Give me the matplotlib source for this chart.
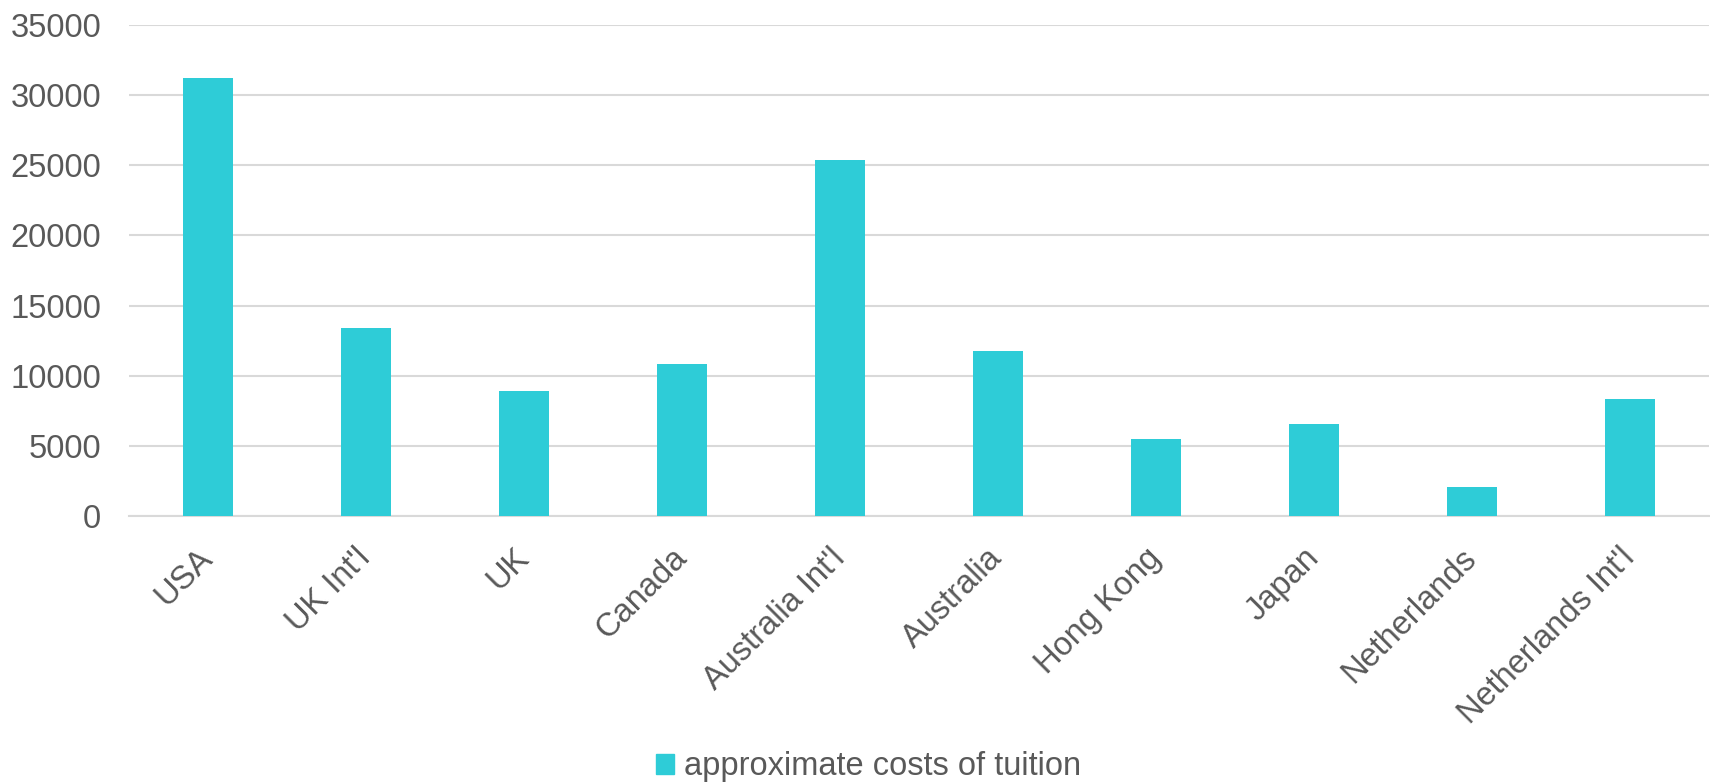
import matplotlib
matplotlib.use("Agg")
import matplotlib.pyplot as plt
from matplotlib.patches import Patch

countries = ["USA", "UK Int'l", "UK", "Canada", "Australia Int'l", "Australia",
             "Hong Kong", "Japan", "Netherlands", "Netherlands Int'l"]
tuition = [31240, 13410, 8930, 10850, 25400, 11780, 5475, 6545, 2050, 8330]
yticks = [0, 5000, 10000, 15000, 20000, 25000, 30000, 35000]

bar_color = "#2ECCD7"
text_color = "#595959"
grid_color = "#D9D9D9"

plt.rcParams["font.family"] = ["Liberation Sans", "DejaVu Sans"]

fig = plt.figure(figsize=(17.1, 7.83), dpi=100)
ax = fig.add_axes([129 / 1710, 1 - 516 / 783, 1580 / 1710, 491 / 783])

x = list(range(len(countries)))
ax.bar(x, tuition, width=0.316, color=bar_color, zorder=3)

ax.set_xlim(-0.5, len(countries) - 0.5)
ax.set_ylim(0, 35000)
ax.set_yticks(yticks)
ax.set_yticklabels([str(v) for v in yticks])
ax.set_xticks(x)
ax.set_xticklabels(countries, rotation=45, ha="right", va="center",
                   rotation_mode="anchor")

ax.grid(axis="y", color=grid_color, linewidth=1.5, zorder=0)
for s in ["top", "right", "left"]:
    ax.spines[s].set_visible(False)
ax.spines["bottom"].set_color(grid_color)
ax.spines["bottom"].set_linewidth(1.5)

ax.tick_params(axis="y", length=0, pad=20, labelsize=23.5, labelcolor=text_color)
ax.tick_params(axis="x", length=0, pad=27, labelsize=23.5, labelcolor=text_color)

handles = [Patch(color=bar_color, label="approximate costs of tuition")]
fig.legend(handles=handles, loc="center", bbox_to_anchor=(0.508, 16 / 783),
           frameon=False, fontsize=23.5, labelcolor=text_color,
           handlelength=0.55, handleheight=0.55, handletextpad=0.3,
           borderpad=0, borderaxespad=0)

fig.savefig("out.png", dpi=100)
